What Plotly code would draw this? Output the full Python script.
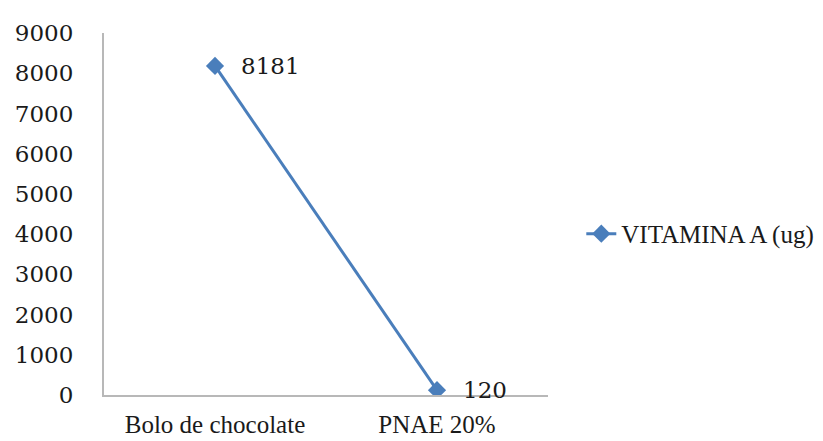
import plotly.graph_objects as go

categories = ["Bolo de chocolate", "PNAE 20%"]
values = [8181, 120]
series_name = "VITAMINA A (ug)"
y_ticks = [0, 1000, 2000, 3000, 4000, 5000, 6000, 7000, 8000, 9000]

blue = "#4a7ebb"
fig = go.Figure()
fig.add_trace(go.Scatter(
    x=categories, y=values, mode="lines+markers", name=series_name,
    line=dict(color=blue, width=3),
    marker=dict(symbol="diamond", size=14, color=blue),
))
for c, v in zip(categories, values):
    fig.add_annotation(x=c, y=v, text=str(v), showarrow=False,
                       xanchor="left", yanchor="middle", xshift=24,
                       font=dict(family="DejaVu Serif", size=23, color="#1a1a1a"))

fig.update_layout(
    width=823, height=441,
    margin=dict(l=96, r=263, t=25, b=54),
    paper_bgcolor="white", plot_bgcolor="white",
    showlegend=True,
    legend=dict(x=1.075, y=0.445, xanchor="left", yanchor="middle",
                font=dict(family="Liberation Serif", size=25, color="#1a1a1a"),
                bgcolor="rgba(0,0,0,0)"),
)
fig.update_xaxes(type="category", range=[-0.5, 1.5], automargin=False,
                 showline=True, linecolor="#b8b8b8", linewidth=2,
                 showgrid=False, zeroline=False, ticks="",
                 ticklabelstandoff=6,
                 tickfont=dict(family="Liberation Serif", size=25, color="#1a1a1a"))
fig.update_yaxes(range=[0, 9000], tickvals=y_ticks, automargin=False, showline=True,
                 linecolor="#b8b8b8", linewidth=2, showgrid=False, zeroline=False,
                 ticks="", ticklabelstandoff=24,
                 tickfont=dict(family="DejaVu Serif", size=23, color="#1a1a1a"))
fig.write_html("out.html")
